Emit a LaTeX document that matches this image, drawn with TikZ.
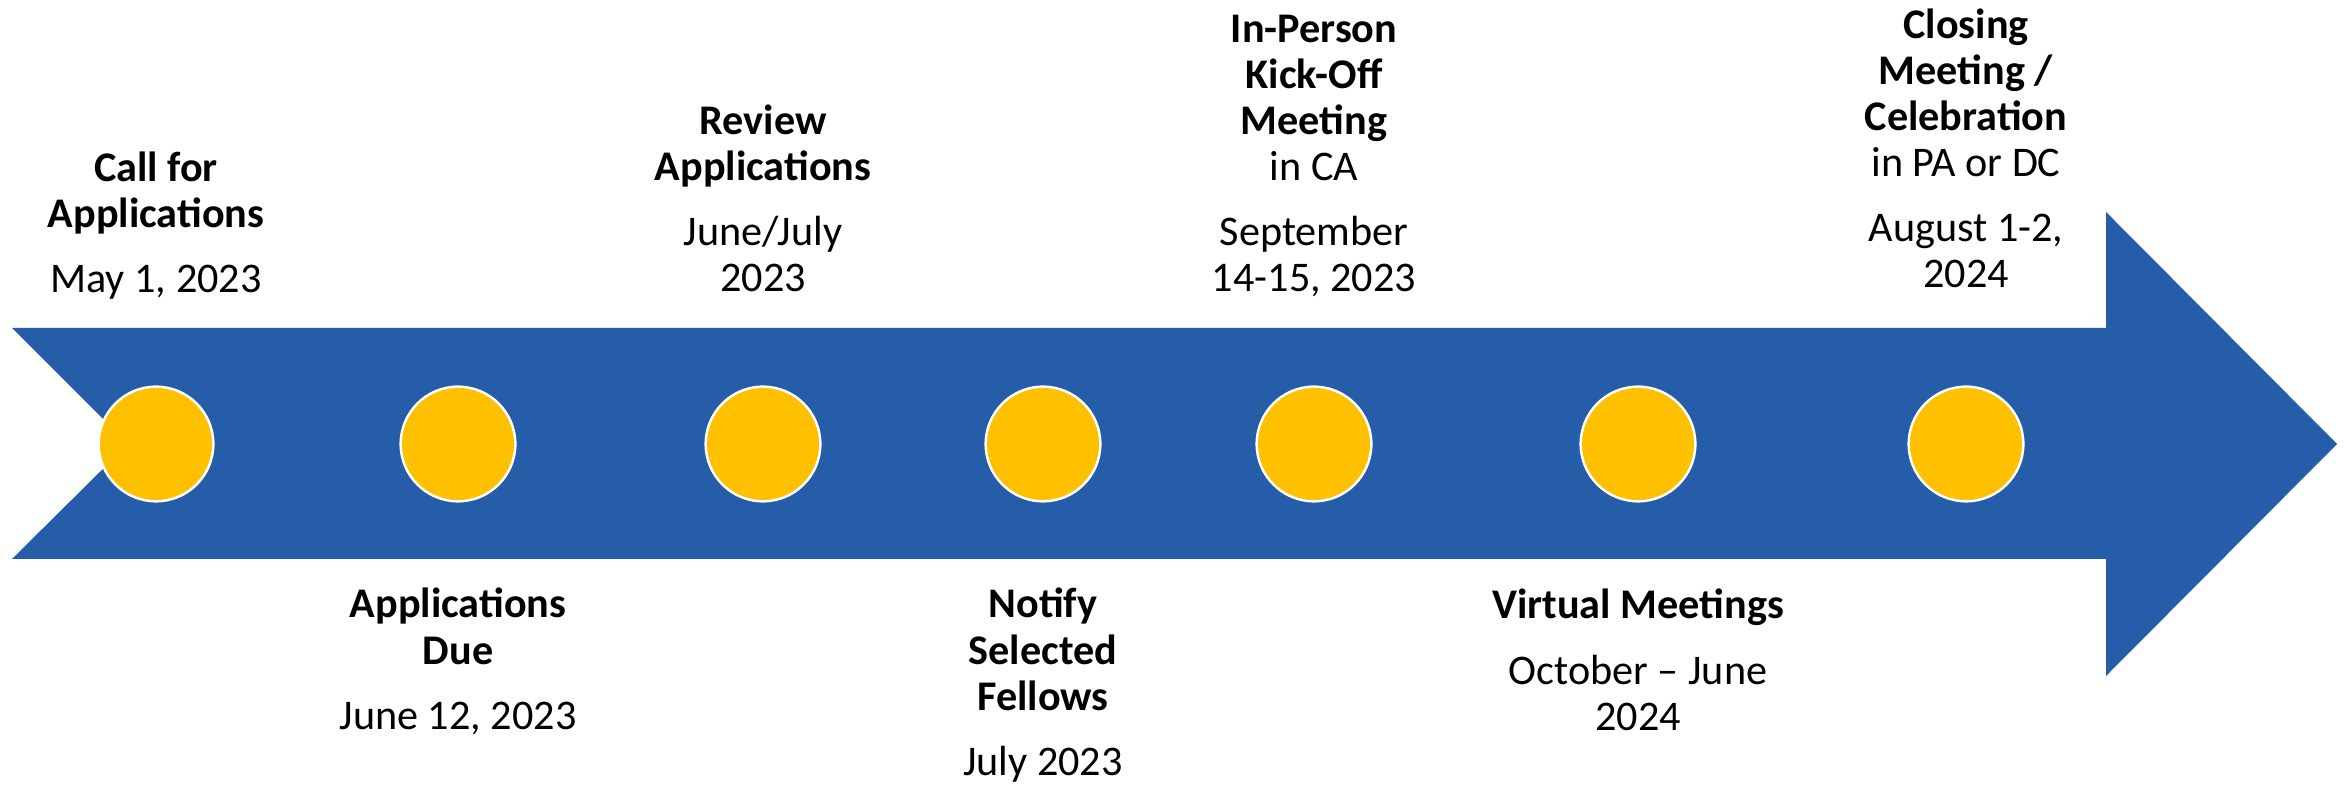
\documentclass[tikz,border=0pt]{standalone}
\usepackage{fontspec}
\setmainfont{Carlito}
\usetikzlibrary{positioning}
\definecolor{arrowblue}{RGB}{37,93,168}
\definecolor{dotgold}{RGB}{255,192,0}
\def\lblfont{\fontsize{12}{13.1}\selectfont}
% label above the arrow: title lines, then the date, last baseline fixed
\newcommand{\uplabel}[2]{\begin{tabular}[b]{@{}c@{}}#1\\[5.4pt]#2\end{tabular}}
% label below the arrow: first baseline fixed
\newcommand{\downlabel}[2]{\begin{tabular}[t]{@{}c@{}}#1\\[5.4pt]#2\end{tabular}}
\tikzset{
	dot/.style={circle,fill=dotgold,draw=white,line width=0.7pt,minimum size=1.146cm,inner sep=0pt},
	milestone/.style={anchor=base,inner sep=0pt,font=\lblfont}
}

\begin{document}
\begin{tikzpicture}[x=0.01cm,y=-0.01cm]
\useasboundingbox (0,0) rectangle (2348,786);
% arrow
\fill[arrowblue] (12,328) -- (2106,328) -- (2106,212) -- (2337,444)
	-- (2106,676) -- (2106,559) -- (12,559) -- (128,444) -- cycle;
% milestones
\foreach \x [count=\i] in {156,458,763,1043,1314,1638,1966}
	\node[dot] (m\i) at (\x,444) {};
% labels above
\node[milestone] (call) at (156,293)
	{\uplabel{\textbf{Call for}\\\textbf{Applications}}{May 1, 2023}};
\node[milestone] (review) at (763,292)
	{\uplabel{\textbf{Review}\\\textbf{Applications}}{June/July\\2023}};
\node[milestone] (kickoff) at (1314,292)
	{\uplabel{\textbf{In-Person}\\\textbf{Kick-Off}\\\textbf{Meeting}\\in CA}{September\\14-15, 2023}};
\node[milestone] (closing) at (1966,288)
	{\uplabel{\textbf{Closing}\\\textbf{Meeting /}\\\textbf{Celebration}\\in PA or DC}{August 1-2,\\2024}};
% labels below
\node[milestone] (due) at (458,618)
	{\downlabel{\textbf{Applications}\\\textbf{Due}}{June 12, 2023}};
\node[milestone] (notify) at (1043,618)
	{\downlabel{\textbf{Notify}\\\textbf{Selected}\\\textbf{Fellows}}{July 2023}};
\node[milestone] (virtual) at (1638,619)
	{\downlabel{\textbf{Virtual Meetings}}{October -- June\\2024}};
\end{tikzpicture}
\end{document}
